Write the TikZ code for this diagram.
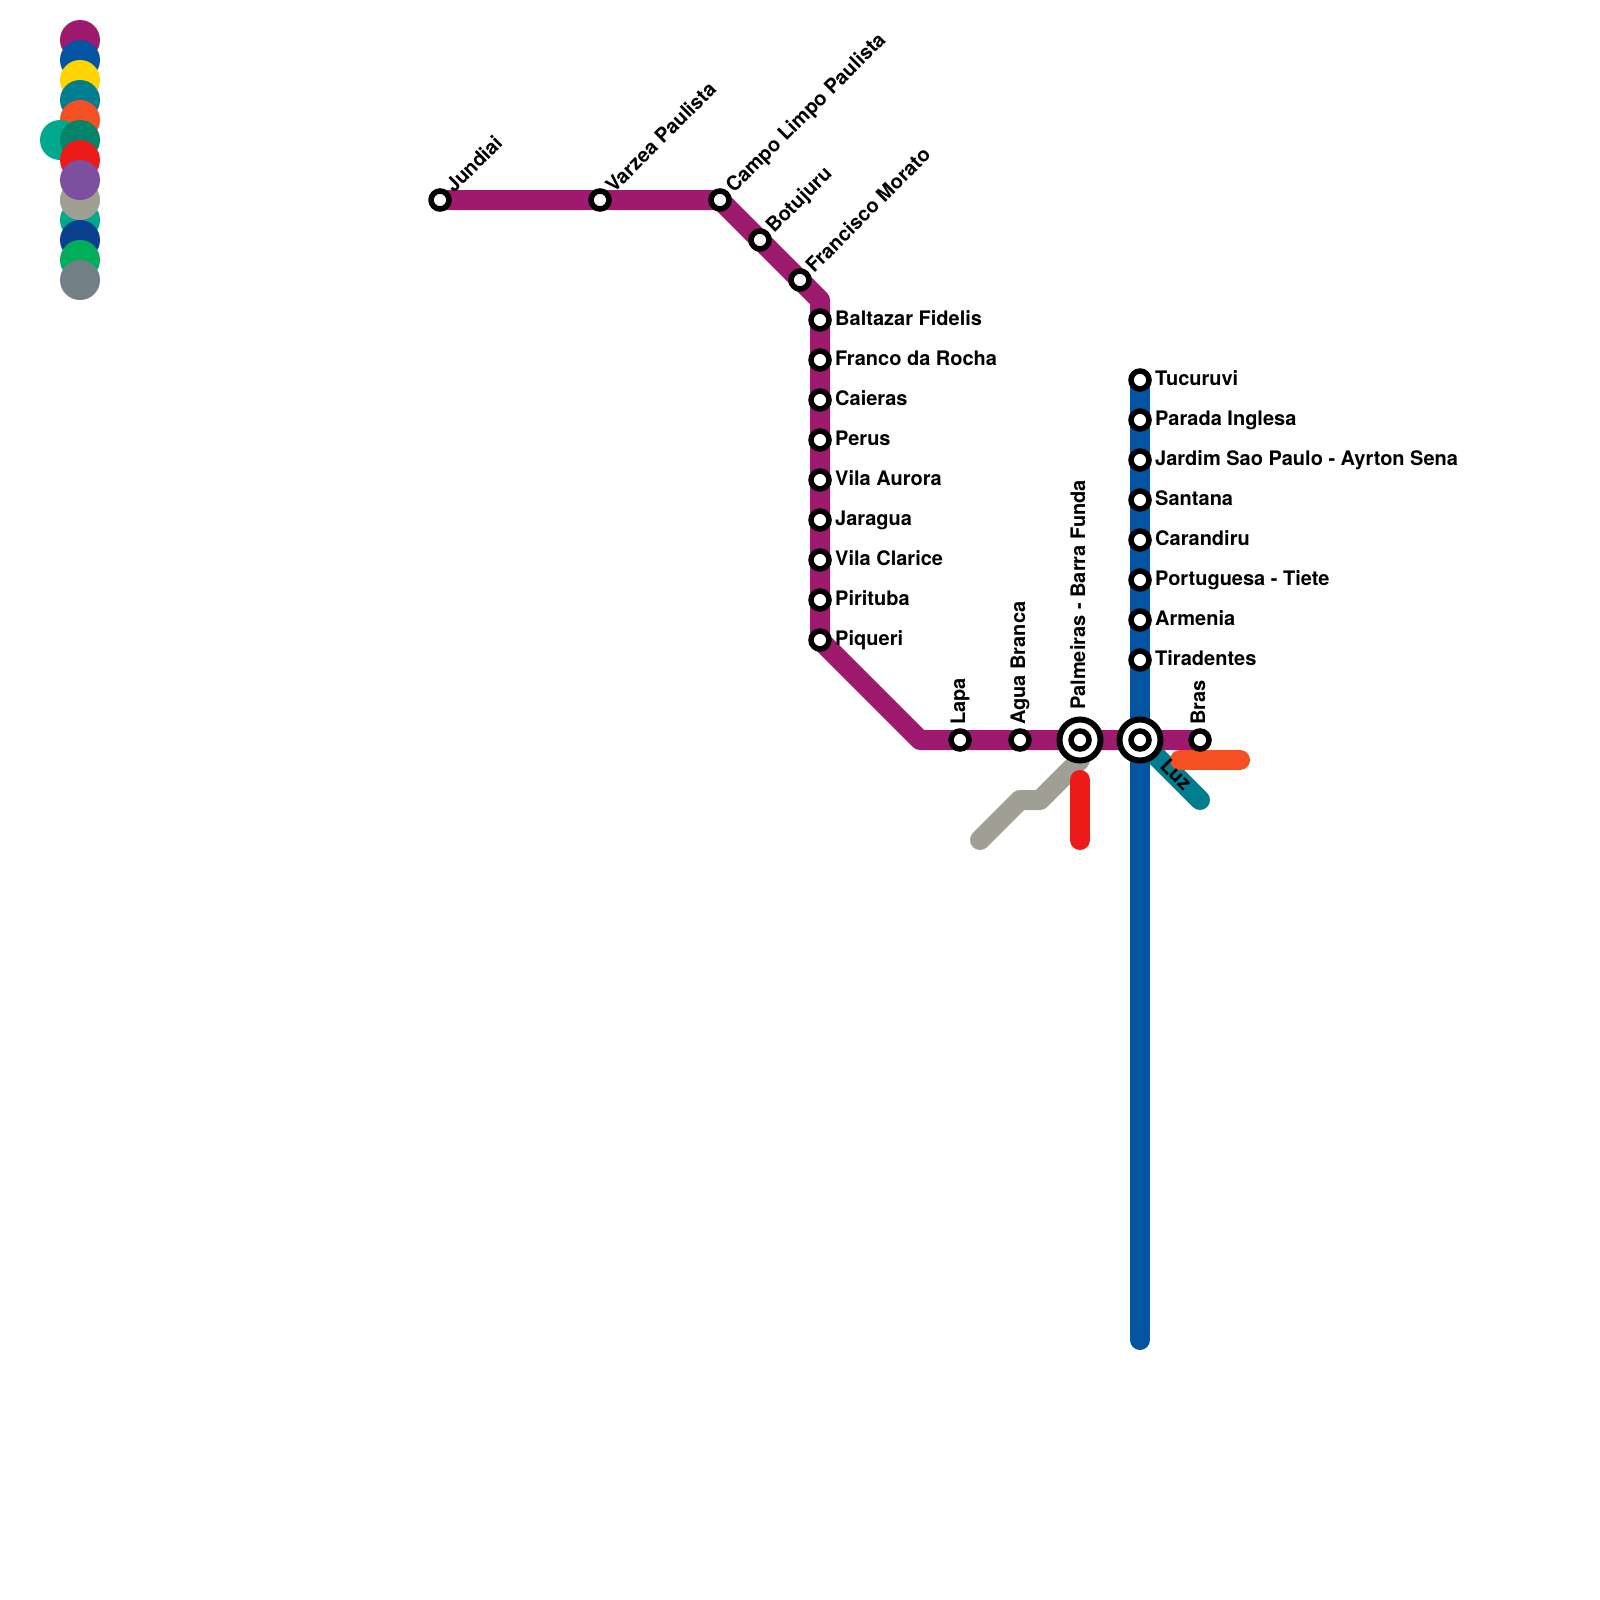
\documentclass[tikz,border=0pt]{standalone}
\usepackage{fontspec}
\setmainfont{TeX Gyre Heros}
\definecolor{cPurple}{HTML}{9E1A6E}
\definecolor{cBlue}{HTML}{0455A1}
\definecolor{cYellow}{HTML}{FFD400}
\definecolor{cTeal}{HTML}{007E90}
\definecolor{cOrange}{HTML}{F55024}
\definecolor{cGreen}{HTML}{00856A}
\definecolor{cJade}{HTML}{00A88E}
\definecolor{cRed}{HTML}{ED1A1A}
\definecolor{cViolet}{HTML}{7D509F}
\definecolor{cGrey}{HTML}{9F9F94}
\definecolor{cNavy}{HTML}{0B3F8F}
\definecolor{cLime}{HTML}{00AE5C}
\definecolor{cSlate}{HTML}{748087}
\tikzset{
  x=1pt,y=-1pt,
  legenddot/.style={circle,inner sep=0pt,minimum size=40pt,fill=#1},
  metro/.style={line width=20pt,line cap=round,line join=round,color=#1},
  stn/.style={circle,draw=black,fill=white,line width=5.5pt,inner sep=0pt,minimum size=18pt},
  hub/.style={circle,draw=black,fill=white,line width=6pt,inner sep=0pt,minimum size=41pt},
  lbl/.style={font=\fontsize{20}{20}\selectfont\bfseries,text=black,inner sep=0pt,anchor=base west},
  lblE/.style={lbl},
  lblNE/.style={lbl,rotate=45},
  lblN/.style={lbl,rotate=90},
  lblSE/.style={lbl,rotate=-45},
}
\begin{document}
\begin{tikzpicture}
\useasboundingbox (0,0) rectangle (1600,1600);
\fill[white] (0,0) rectangle (1600,1600);
% legend
\node[legenddot=cPurple] (k1) at (80,40) {};
\node[legenddot=cBlue] (k2) at (80,60) {};
\node[legenddot=cYellow] (k3) at (80,80) {};
\node[legenddot=cTeal] (k4) at (80,100) {};
\node[legenddot=cOrange] (k5) at (80,120) {};
\node[legenddot=cJade] (k6b) at (60,140) {};
\node[legenddot=cGreen] (k6) at (80,140) {};
\node[legenddot=cRed] (k7) at (80,160) {};
\node[legenddot=cJade] (k10) at (80,220) {};
\node[legenddot=cGrey] (k9) at (80,200) {};
\node[legenddot=cViolet] (k8) at (80,180) {};
\node[legenddot=cNavy] (k11) at (80,240) {};
\node[legenddot=cLime] (k12) at (80,260) {};
\node[legenddot=cSlate] (k13) at (80,280) {};
% coordinates
\coordinate (jun) at (440,200);
\coordinate (var) at (600,200);
\coordinate (cam) at (720,200);
\coordinate (bot) at (760,240);
\coordinate (fra) at (800,280);
\coordinate (bend1) at (820,300);
\coordinate (bal) at (820,320);
\coordinate (frd) at (820,360);
\coordinate (cai) at (820,400);
\coordinate (per) at (820,440);
\coordinate (vau) at (820,480);
\coordinate (jar) at (820,520);
\coordinate (vcl) at (820,560);
\coordinate (pir) at (820,600);
\coordinate (piq) at (820,640);
\coordinate (bend2) at (920,740);
\coordinate (lap) at (960,740);
\coordinate (agu) at (1020,740);
\coordinate (pal) at (1080,740);
\coordinate (luz) at (1140,740);
\coordinate (bra) at (1200,740);
\coordinate (tuc) at (1140,380);
\coordinate (pin) at (1140,420);
\coordinate (jsp) at (1140,460);
\coordinate (san) at (1140,500);
\coordinate (car) at (1140,540);
\coordinate (ptt) at (1140,580);
\coordinate (arm) at (1140,620);
\coordinate (tir) at (1140,660);
\coordinate (blueEnd) at (1140,1340);
\coordinate (tealEnd) at (1200,800);
\coordinate (orgA) at (1180,760);
\coordinate (orgB) at (1240,760);
\coordinate (redA) at (1080,780);
\coordinate (redB) at (1080,840);
\coordinate (gr0) at (1080,760);
\coordinate (gr1) at (1040,800);
\coordinate (gr2) at (1020,800);
\coordinate (gr3) at (980,840);
% lines
\draw[metro=cGrey] (gr0) -- (gr1) -- (gr2) -- (gr3);
\draw[metro=cRed] (redA) -- (redB);
\draw[metro=cTeal] (luz) -- (tealEnd);
\draw[metro=cPurple] (jun) -- (var) -- (cam) -- (bot) -- (fra) -- (bend1) -- (bal) -- (frd) -- (cai) -- (per) -- (vau) -- (jar) -- (vcl) -- (pir) -- (piq) -- (bend2) -- (lap) -- (agu) -- (pal) -- (luz) -- (bra);
\draw[metro=cBlue] (tuc) -- (pin) -- (jsp) -- (san) -- (car) -- (ptt) -- (arm) -- (tir) -- (luz) -- (blueEnd);
\draw[metro=cOrange] (orgA) -- (orgB);
% stations
\foreach \c in {jun,var,cam,bot,fra,bal,frd,cai,per,vau,jar,vcl,pir,piq,lap,agu,bra,tuc,pin,jsp,san,car,ptt,arm,tir}
  \node[stn] (n\c) at (\c) {};
\node[hub] (hpal) at (pal) {};
\node[hub] (hluz) at (luz) {};
\node[stn] (npal) at (pal) {};
\node[stn] (nluz) at (luz) {};
% labels
\node[lblNE] (tjun) at ([shift={(14,-6)}]jun) {Jundiai};
\node[lblNE] (tvar) at ([shift={(14,-6)}]var) {Varzea Paulista};
\node[lblNE] (tcam) at ([shift={(14,-6)}]cam) {Campo Limpo Paulista};
\node[lblNE] (tbot) at ([shift={(14,-6)}]bot) {Botujuru};
\node[lblNE] (tfra) at ([shift={(14,-6)}]fra) {Francisco Morato};
\node[lblE] (tbal) at ([shift={(15,5)}]bal) {Baltazar Fidelis};
\node[lblE] (tfrd) at ([shift={(15,5)}]frd) {Franco da Rocha};
\node[lblE] (tcai) at ([shift={(15,5)}]cai) {Caieras};
\node[lblE] (tper) at ([shift={(15,5)}]per) {Perus};
\node[lblE] (tvau) at ([shift={(15,5)}]vau) {Vila Aurora};
\node[lblE] (tjar) at ([shift={(15,5)}]jar) {Jaragua};
\node[lblE] (tvcl) at ([shift={(15,5)}]vcl) {Vila Clarice};
\node[lblE] (tpir) at ([shift={(15,5)}]pir) {Pirituba};
\node[lblE] (tpiq) at ([shift={(15,5)}]piq) {Piqueri};
\node[lblE] (ttuc) at ([shift={(15,5)}]tuc) {Tucuruvi};
\node[lblE] (tpin) at ([shift={(15,5)}]pin) {Parada Inglesa};
\node[lblE] (tjsp) at ([shift={(15,5)}]jsp) {Jardim Sao Paulo - Ayrton Sena};
\node[lblE] (tsan) at ([shift={(15,5)}]san) {Santana};
\node[lblE] (tcar) at ([shift={(15,5)}]car) {Carandiru};
\node[lblE] (tptt) at ([shift={(15,5)}]ptt) {Portuguesa - Tiete};
\node[lblE] (tarm) at ([shift={(15,5)}]arm) {Armenia};
\node[lblE] (ttir) at ([shift={(15,5)}]tir) {Tiradentes};
\node[lblN] (tlap) at ([shift={(5,-15)}]lap) {Lapa};
\node[lblN] (tagu) at ([shift={(5,-15)}]agu) {Agua Branca};
\node[lblN] (tpal) at ([shift={(5,-30)}]pal) {Palmeiras - Barra Funda};
\node[lblN] (tbra) at ([shift={(5,-15)}]bra) {Bras};
\node[lblSE] (tluz) at ([shift={(19,27)}]luz) {Luz};
\end{tikzpicture}
\end{document}
